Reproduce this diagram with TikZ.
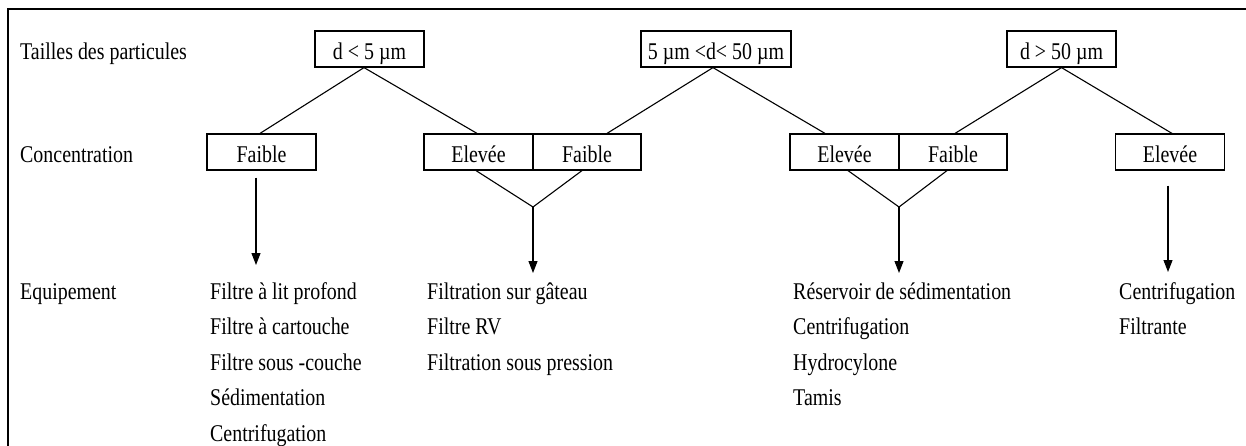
\documentclass[tikz,border=0pt]{standalone}
\usepackage{fontspec}
\setmainfont{Liberation Serif}[FakeStretch=0.83]
\usetikzlibrary{arrows.meta}
\begin{document}
\begin{tikzpicture}[x=1pt,y=-1pt,
  every node/.style={font=\fontsize{24}{35.5}\selectfont, inner sep=0pt},
  sizebox/.style={draw, line width=1.2pt, minimum width=109pt, minimum height=36pt,
                  text height=22pt, text depth=0pt},
  item/.style={anchor=base west},
  link/.style={line width=1.1pt},
  arr/.style={line width=1.1pt, -{Triangle[width=9pt,length=12pt]}},
  frame/.style={line width=2.6pt}
]
\useasboundingbox (0,0) rectangle (1246,446);

% open frame: top and left rules
\draw[frame] (8,460) -- (8,9) -- (1260,9);

% row labels
\node[item] (lsize) at (20,60)  {Tailles des particules};
\node[item] (lconc) at (20,163) {Concentration};
\node[item] (lequi) at (20,299) {Equipement};

% particle size classes
\node[sizebox] (b1) at (369.5,49) {d < 5 µm};
\node[sizebox, minimum width=150pt] (b2) at (716,49) {5 µm <d< 50 µm};
\node[sizebox] (b3) at (1061.5,49) {d > 50 µm};

% concentration boxes
\node[sizebox] (c1) at (261.5,152) {Faible};
\node[sizebox] (c2) at (478.5,152) {Elevée};
\node[sizebox, minimum width=108pt] (c3) at (587,152) {Faible};
\node[sizebox] (c4) at (844.5,152) {Elevée};
\node[sizebox, minimum width=108pt] (c5) at (953,152) {Faible};
\node[sizebox] (c6) at (1170,152) {Elevée};

% branches from size classes to concentrations
\draw[link] ([xshift=-1.5pt]c1.north) -- ([xshift=-5.5pt]b1.south) -- ([xshift=-1.5pt]c2.north);
\draw[link] ([xshift=20pt]c3.north) -- ([xshift=-3pt]b2.south) -- ([xshift=-19.5pt]c4.north);
\draw[link] ([xshift=2pt]c5.north) -- (b3.south) -- ([xshift=2pt]c6.north);

% merging pairs
\coordinate (v1) at (533,207);
\coordinate (v2) at (899,207);
\draw[link] ([xshift=-2.5pt]c2.south) -- (v1) -- ([xshift=-5pt]c3.south);
\draw[link] ([xshift=3.5pt]c4.south) -- (v2) -- ([xshift=-6pt]c5.south);

% arrow tips above the equipment lists
\coordinate (t1) at (256,265);
\coordinate (t2) at (533,273);
\coordinate (t3) at (899,273);
\coordinate (t4) at (1168,272);

\draw[arr] ([xshift=-5.5pt,yshift=-7pt]c1.south) -- (t1);
\draw[arr] (v1) -- (t2);
\draw[arr] (v2) -- (t3);
\draw[arr] ([xshift=-2pt,yshift=-15pt]c6.south) -- (t4);

% equipment lists
\foreach \t [count=\i] in {Filtre à lit profond, Filtre à cartouche, Filtre sous -couche, Sédimentation, Centrifugation}
  \node[item] (ea\i) at (210,{299+35.5*(\i-1)}) {\t};
\foreach \t [count=\i] in {Filtration sur gâteau, Filtre RV, Filtration sous pression}
  \node[item] (eb\i) at (427,{299+35.5*(\i-1)}) {\t};
\foreach \t [count=\i] in {Réservoir de sédimentation, Centrifugation, Hydrocylone, Tamis}
  \node[item] (ec\i) at (793,{299+35.5*(\i-1)}) {\t};
\foreach \t [count=\i] in {Centrifugation, Filtrante}
  \node[item] (ed\i) at (1119,{299+35.5*(\i-1)}) {\t};
\end{tikzpicture}
\end{document}
